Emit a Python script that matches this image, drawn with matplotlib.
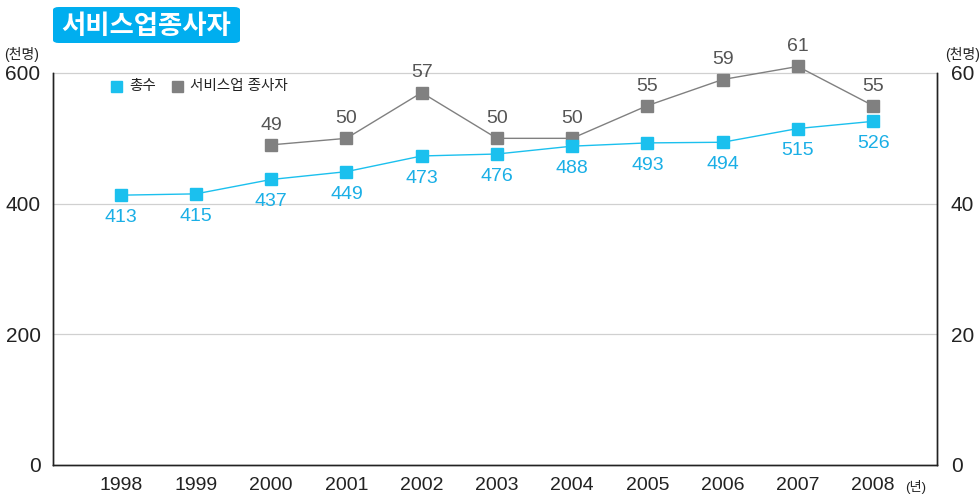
import matplotlib
matplotlib.use("Agg")
import matplotlib.pyplot as plt
from matplotlib.patches import FancyBboxPatch

plt.rcParams['font.family'] = ['Liberation Sans', 'Noto Sans CJK KR', 'DejaVu Sans']

years = ['1998', '1999', '2000', '2001', '2002', '2003', '2004', '2005', '2006', '2007', '2008']
total = [413, 415, 437, 449, 473, 476, 488, 493, 494, 515, 526]
service_years = ['2000', '2001', '2002', '2003', '2004', '2005', '2006', '2007', '2008']
service = [49, 50, 57, 50, 50, 55, 59, 61, 55]
left_ticks = [0, 200, 400, 600]
right_ticks = [0, 20, 40, 60]

CYAN = '#1BC0EE'
CYAN_TXT = '#1AAFE6'
GRAY = '#808080'
GRAY_TXT = '#555555'

fig = plt.figure(figsize=(9.8, 4.96), dpi=100)
ax = fig.add_axes([53/980, 1 - 465/496, (937-53)/980, (465-73)/496])
ax2 = ax.twinx()
ax.set_zorder(ax2.get_zorder() + 1)
ax.patch.set_visible(False)

x = list(range(len(years)))
sx = [years.index(y) for y in service_years]

ax.set_ylim(0, 600)
ax2.set_ylim(0, 60)
ax.set_xlim(-0.9, 10.85)

for t in left_ticks[1:]:
    ax2.axhline(t / 10, color='#d0d0d0', lw=0.9, zorder=0, clip_on=False)

ax.plot(x, total, color=CYAN, lw=1, marker='s', ms=9, mec=CYAN, mfc=CYAN, zorder=3, clip_on=False)
ax2.plot(sx, service, color=GRAY, lw=1, marker='s', ms=9, mec=GRAY, mfc=GRAY, zorder=3, clip_on=False)

for xi, v in zip(x, total):
    ax.annotate(str(v), (xi, v), xytext=(0, -10), textcoords='offset points',
                ha='center', va='top', fontsize=14, color=CYAN_TXT, annotation_clip=False)
for xi, v in zip(sx, service):
    ax2.annotate(str(v), (xi, v), xytext=(0, 8), textcoords='offset points',
                 ha='center', va='bottom', fontsize=14, color=GRAY_TXT, annotation_clip=False)

ax.set_xticks(x)
ax.set_xticklabels(years, fontsize=14)
ax.set_yticks(left_ticks)
ax.set_yticklabels([str(t) for t in left_ticks], fontsize=15)
ax2.set_yticks(right_ticks)
ax2.set_yticklabels([str(t) for t in right_ticks], fontsize=15)

for a in (ax, ax2):
    a.tick_params(length=0, colors='#222222')
    a.spines['top'].set_visible(False)
    for s in ('left', 'right', 'bottom'):
        a.spines[s].set_color('#222222')
        a.spines[s].set_linewidth(1)
ax.tick_params(axis='x', pad=9)
ax.tick_params(axis='y', pad=9)
ax2.tick_params(axis='y', pad=10)

# unit labels
fig.text(22/980, 1 - 54/496, '(천명)', fontsize=10, ha='center', va='center', color='#222222')
fig.text(963/980, 1 - 54/496, '(천명)', fontsize=10, ha='center', va='center', color='#222222')
fig.text(916/980, 1 - 487/496, '(년)', fontsize=9.5, ha='center', va='center', color='#222222')

# legend
fig.patches.append(plt.Rectangle((111/980, 1 - 92/496), 11/980, 11/496, transform=fig.transFigure,
                                 color=CYAN, figure=fig))
fig.text(129/980, 1 - 86/496, '총수', fontsize=10.5, va='center', color='#222222')
fig.patches.append(plt.Rectangle((172/980, 1 - 92/496), 11/980, 11/496, transform=fig.transFigure,
                                 color=GRAY, figure=fig))
fig.text(190/980, 1 - 86/496, '서비스업 종사자', fontsize=10.5, va='center', color='#222222')

# title box
box = FancyBboxPatch((53/980, 1 - 43/496), (240-53)/980, 36/496,
                     boxstyle='round,pad=0,rounding_size=0.006', transform=fig.transFigure,
                     facecolor='#00AEEF', edgecolor='none', figure=fig)
fig.patches.append(box)
fig.text(146/980, 1 - 26/496, '서비스업종사자', fontsize=19, fontweight='bold', color='white',
         ha='center', va='center', family=['Noto Sans CJK KR'])

fig.savefig('out.png', dpi=100)
